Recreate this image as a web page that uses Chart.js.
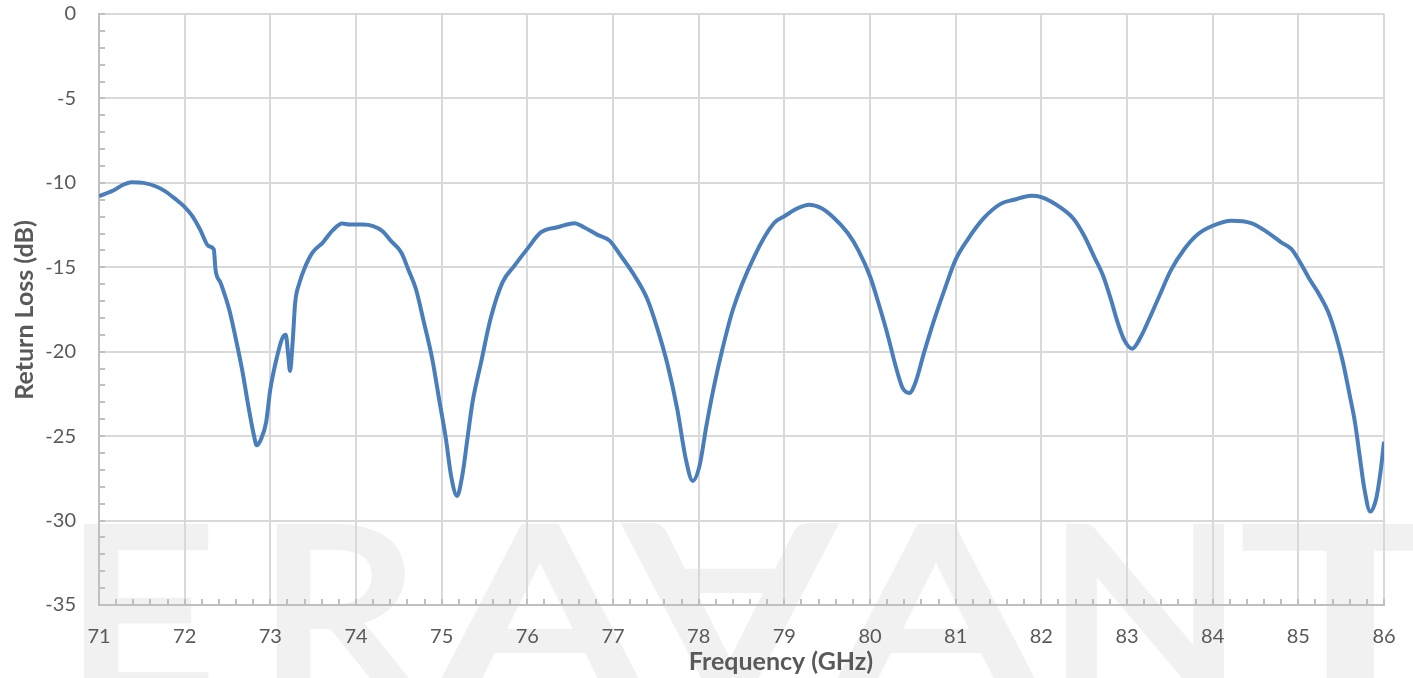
<!DOCTYPE html>
<html>
<head>
<meta charset="utf-8">
<script src="https://cdn.jsdelivr.net/npm/chart.js@4"></script>
<style>
  html, body { margin: 0; padding: 0; background: #fff; }
  #wrap { width: 1413px; height: 678px; }
</style>
</head>
<body>
<div id="wrap"><canvas id="rl_chart" width="1413" height="678"></canvas></div>
<script>
var freqGHz = [
  71.00, 71.19, 71.27, 71.38, 71.52, 71.66, 71.77, 71.89, 71.99, 72.09,
  72.18, 72.28, 72.34, 72.36, 72.42, 72.52, 72.59, 72.67, 72.75, 72.81,
  72.84, 72.89, 72.95, 73.00, 73.08, 73.14, 73.18, 73.21, 73.23, 73.26,
  73.29, 73.34, 73.41, 73.49, 73.61, 73.73, 73.84, 73.92, 74.08, 74.20,
  74.31, 74.41, 74.53, 74.61, 74.70, 74.79, 74.89, 74.97, 75.05, 75.11,
  75.18, 75.24, 75.30, 75.36, 75.46, 75.57, 75.71, 75.85, 76.00, 76.16,
  76.35, 76.55, 76.66, 76.82, 76.96, 77.09, 77.25, 77.40, 77.52, 77.64,
  77.75, 77.85, 77.93, 78.01, 78.09, 78.18, 78.27, 78.40, 78.65, 78.88,
  79.00, 79.16, 79.29, 79.43, 79.58, 79.74, 79.86, 80.00, 80.11, 80.21,
  80.30, 80.38, 80.46, 80.53, 80.63, 80.75, 80.87, 81.00, 81.14, 81.33,
  81.53, 81.68, 81.88, 82.00, 82.23, 82.38, 82.50, 82.62, 82.72, 82.81,
  82.89, 82.97, 83.06, 83.16, 83.26, 83.38, 83.51, 83.67, 83.83, 84.00,
  84.22, 84.45, 84.64, 84.80, 84.92, 85.01, 85.13, 85.25, 85.35, 85.44,
  85.52, 85.60, 85.66, 85.72, 85.77, 85.84, 85.91, 85.96, 86.00
];
var returnLossDb = [
  -10.79, -10.39, -10.14, -9.96, -10.00, -10.20, -10.49, -10.95, -11.38, -11.97,
  -12.76, -13.75, -13.94, -15.13, -15.92, -17.50, -19.07, -21.05, -23.41, -24.99,
  -25.54, -25.19, -24.20, -22.22, -20.26, -19.20, -19.00, -20.26, -21.14, -19.47,
  -17.10, -15.92, -14.93, -14.14, -13.55, -12.80, -12.41, -12.47, -12.47, -12.56,
  -12.86, -13.45, -14.14, -15.13, -16.30, -18.20, -20.43, -22.81, -25.18, -27.35,
  -28.54, -27.35, -25.18, -23.00, -20.63, -18.06, -15.89, -14.90, -13.91, -12.92,
  -12.63, -12.39, -12.63, -13.08, -13.42, -14.31, -15.49, -16.88, -18.66, -20.83,
  -23.40, -26.36, -27.65, -26.76, -24.39, -22.02, -20.00, -17.50, -14.35, -12.38,
  -11.98, -11.49, -11.29, -11.49, -12.08, -12.97, -13.95, -15.53, -17.31, -19.08,
  -20.86, -22.14, -22.44, -21.84, -20.07, -18.10, -16.32, -14.55, -13.36, -12.08,
  -11.23, -11.00, -10.76, -10.84, -11.48, -12.15, -13.13, -14.41, -15.49, -16.87,
  -18.25, -19.33, -19.82, -19.13, -18.05, -16.67, -15.20, -13.92, -13.03, -12.54,
  -12.24, -12.38, -12.93, -13.52, -13.92, -14.61, -15.69, -16.67, -17.66, -19.04,
  -20.61, -22.58, -24.15, -26.32, -28.09, -29.47, -28.68, -27.10, -25.33
];
var xTitle = "Frequency (GHz)";
var yTitle = "Return Loss (dB)";
var watermark = ["E", "R", "A", "\u2200", "A", "N", "T"];
var watermarkX = [140, 338, 540, 730, 936, 1145, 1350];

var textColor = "#595959";
var font = "Lato, 'Open Sans', sans-serif";

var points = [];
for (var i = 0; i < freqGHz.length; i++) {
    points.push({x: freqGHz[i], y: returnLossDb[i]});
}

// big pale logo letters behind the plot
var watermarkPlugin = {
    id: "watermark",
    beforeDraw: function (chart) {
        var ctx = chart.ctx;
        var size = 233;
        var top = 527;
        var cap = size * 0.72;
        var stretch = [1.12, 1.1, 1.3, 1.3, 1.3, 1.1, 1.55];
        ctx.save();
        ctx.fillStyle = "#f1f1f1";
        ctx.strokeStyle = "#f1f1f1";
        ctx.lineWidth = 8;
        ctx.lineJoin = "miter";
        ctx.font = "normal " + size + "px " + font;
        ctx.textAlign = "center";
        ctx.textBaseline = "alphabetic";
        for (var i = 0; i < watermark.length; i++) {
            ctx.save();
            ctx.translate(watermarkX[i], top + cap / 2);
            ctx.scale(stretch[i], 1);
            var ch = watermark[i];
            if (ch === "\u2200") {
                ctx.rotate(Math.PI);
                ch = "A";
            }
            ctx.fillText(ch, 0, cap / 2);
            ctx.strokeText(ch, 0, cap / 2);
            ctx.restore();
        }
        ctx.restore();
    }
};

// minor tick marks and the axis titles
var axisExtras = {
    id: "axisExtras",
    afterDraw: function (chart) {
        var ctx = chart.ctx;
        var xs = chart.scales.x, ys = chart.scales.y;
        var area = chart.chartArea;
        ctx.save();
        ctx.strokeStyle = "#bfbfbf";
        ctx.lineWidth = 2;
        ctx.beginPath();
        for (var v = -35; v <= 0; v += 1) {
            var py = Math.round(ys.getPixelForValue(v));
            ctx.moveTo(area.left, py);
            ctx.lineTo(area.left + 6, py);
        }
        for (var k = 0; k <= 75; k++) {
            var px = Math.round(xs.getPixelForValue(71 + k * 0.2));
            ctx.moveTo(px, area.bottom);
            ctx.lineTo(px, area.bottom - 6);
        }
        ctx.stroke();

        ctx.fillStyle = textColor;
        ctx.font = "bold 25px " + font;
        ctx.textAlign = "center";
        ctx.textBaseline = "middle";
        ctx.fillText(xTitle, 781, 662);
        ctx.translate(25, 310);
        ctx.rotate(-Math.PI / 2);
        ctx.fillText(yTitle, 0, 0);
        ctx.restore();
    }
};

new Chart(document.getElementById("rl_chart").getContext("2d"), {
    type: "line",
    data: {
        datasets: [{
            data: points,
            borderColor: "#4a7ebb",
            borderWidth: 4,
            pointRadius: 0,
            fill: false,
            cubicInterpolationMode: "monotone"
        }]
    },
    options: {
        responsive: false,
        animation: false,
        layout: { padding: { top: 14, right: 29, left: 0, bottom: 0 } },
        plugins: { legend: { display: false }, tooltip: { enabled: false } },
        scales: {
            x: {
                type: "linear",
                min: 71,
                max: 86,
                afterFit: function (s) {
                    s.height = 73;
                    s.paddingLeft = 0;
                    s.paddingRight = 0;
                },
                ticks: {
                    stepSize: 1,
                    color: textColor,
                    font: { family: font, size: 20 },
                    padding: 20,
                    maxRotation: 0
                },
                grid: { color: "#d9d9d9", lineWidth: 2, drawTicks: false },
                border: { color: "#bfbfbf", width: 2 }
            },
            y: {
                min: -35,
                max: 0,
                afterFit: function (s) {
                    s.width = 99;
                    s.paddingTop = 0;
                    s.paddingBottom = 0;
                },
                ticks: {
                    stepSize: 5,
                    color: textColor,
                    font: { family: font, size: 20 },
                    padding: 23
                },
                grid: { color: "#d9d9d9", lineWidth: 2, drawTicks: false },
                border: { color: "#bfbfbf", width: 2 }
            }
        }
    },
    plugins: [watermarkPlugin, axisExtras]
});
</script>
</body>
</html>
